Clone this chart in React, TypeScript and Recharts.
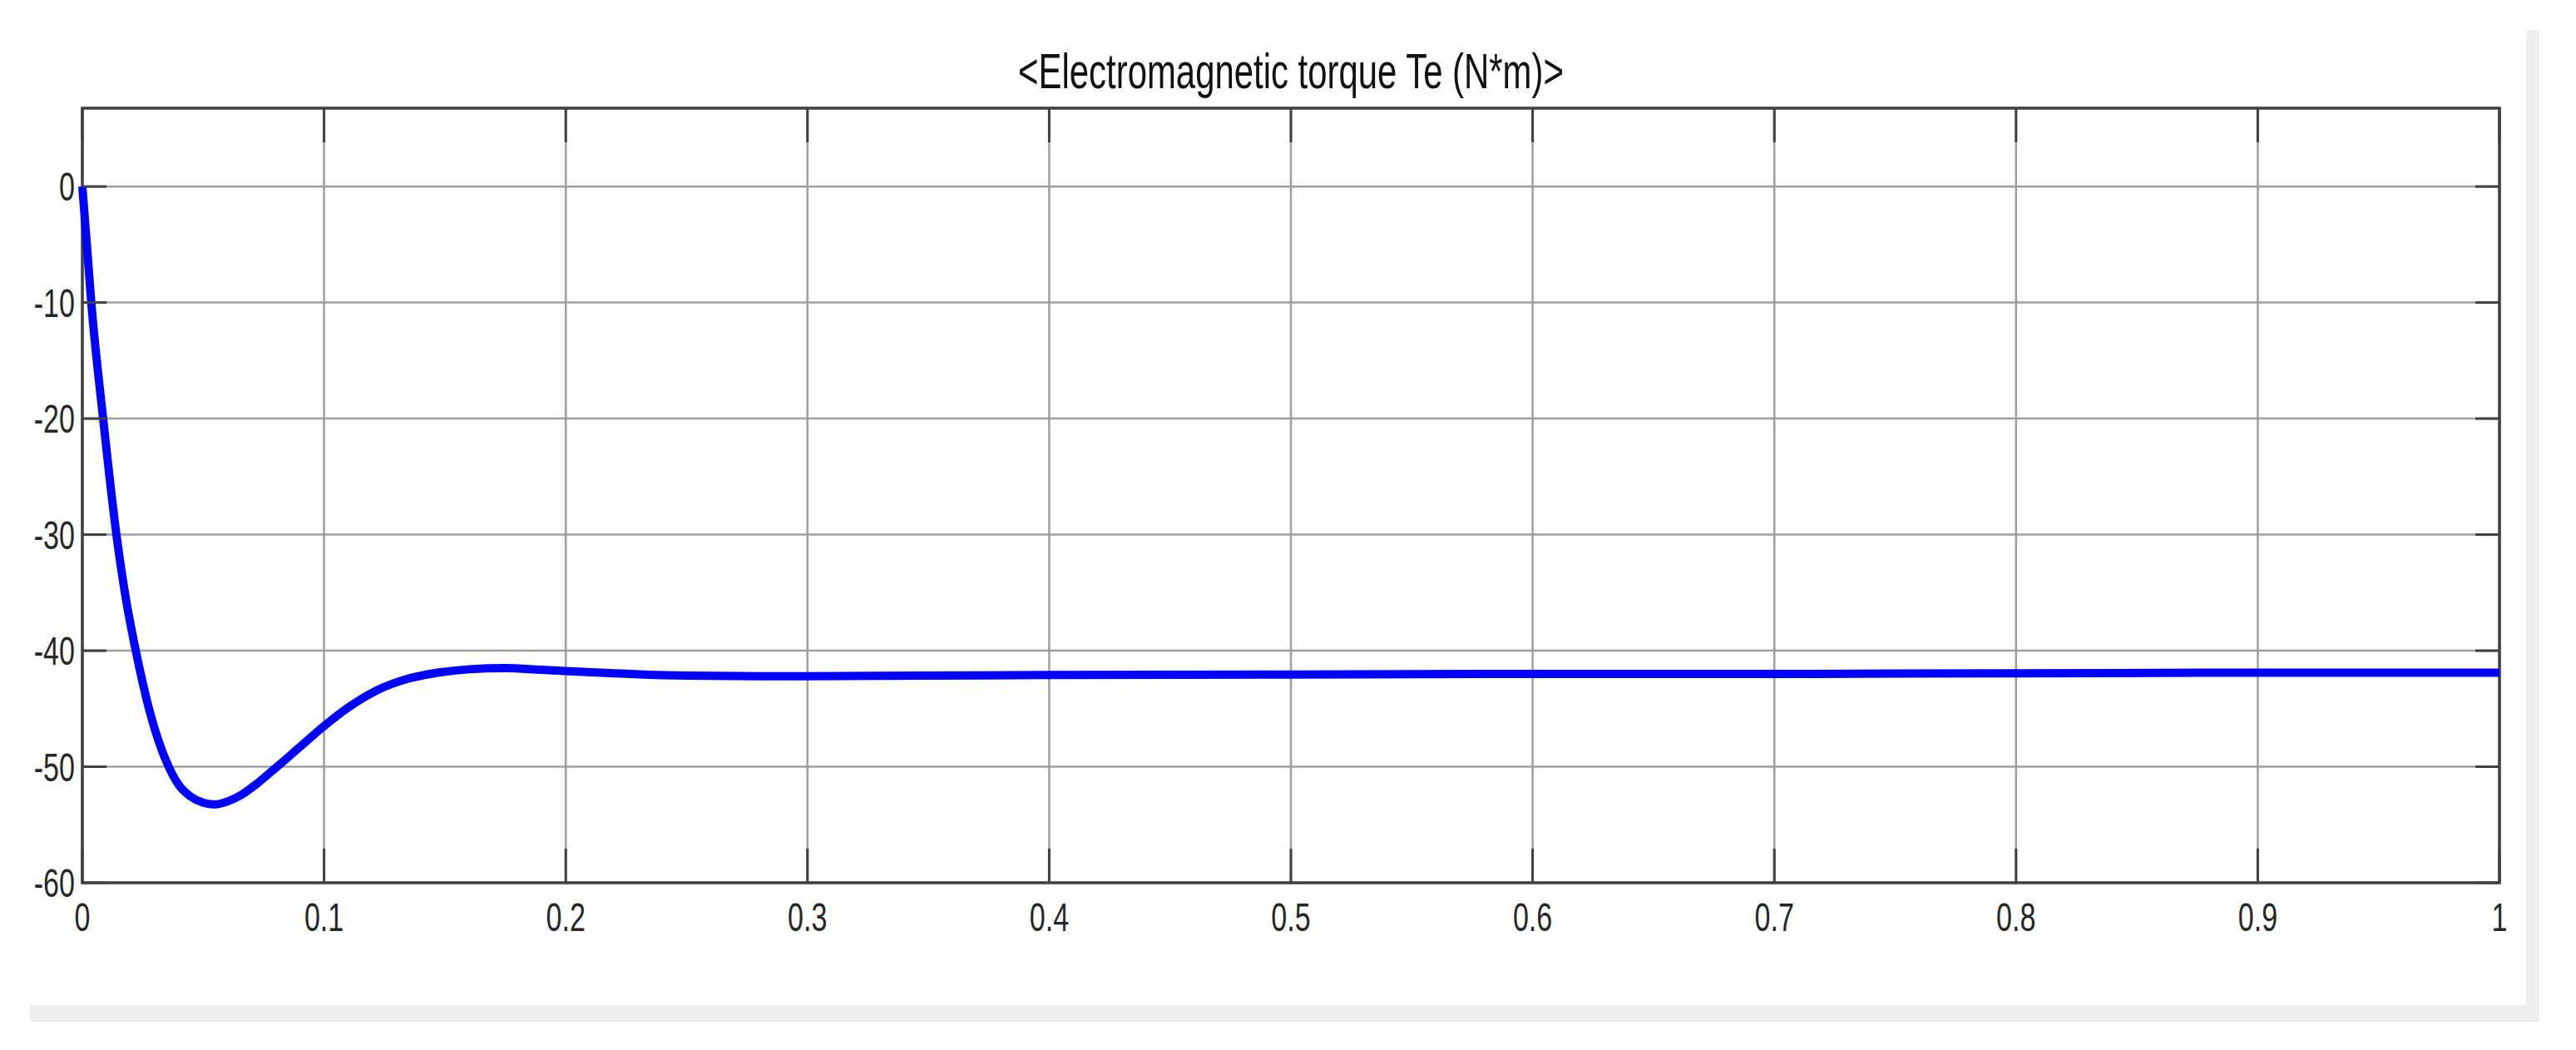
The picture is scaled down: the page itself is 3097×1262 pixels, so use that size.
import React from "react";
import { CartesianGrid, Line, LineChart, ReferenceArea, XAxis, YAxis } from "recharts";

// simulation time (s) and electromagnetic torque (N*m)
const time = [
  0, 0.002, 0.0037, 0.0086, 0.0141, 0.018, 0.0221, 0.0277, 0.0357, 0.04, 0.045, 0.05,
  0.055, 0.06, 0.066, 0.072, 0.08, 0.09, 0.1, 0.11, 0.122, 0.135, 0.147, 0.16, 0.175,
  0.19, 0.2, 0.22, 0.25, 0.28, 0.3, 0.35, 0.4, 0.5, 0.6, 0.7, 0.8, 0.9, 1.0,
];
const torque = [
  0, -5.4, -10, -20, -30, -35.5, -40, -45.1, -50, -51.6, -52.6, -53.1,
  -53.25, -53.0, -52.4, -51.5, -50.1, -48.3, -46.5, -44.9, -43.4, -42.4, -41.9, -41.6, -41.5,
  -41.65, -41.75, -41.95, -42.15, -42.2, -42.2, -42.15, -42.1, -42.05, -42.0, -42.0, -41.95, -41.9, -41.9,
];
const xTicks = [0, 0.1, 0.2, 0.3, 0.4, 0.5, 0.6, 0.7, 0.8, 0.9, 1];
const yTicks = [-60, -50, -40, -30, -20, -10, 0];
const title = "<Electromagnetic torque Te (N*m)>";

const data = time.map((t, i) => ({ t, te: torque[i] }));

// plot box in page pixels
const W = 3097;
const H = 1262;
const PLOT_LEFT = 99;
const PLOT_RIGHT = 3005;
const PLOT_TOP = 130;
const PLOT_BOTTOM = 1061;

const FONT = "'Liberation Sans', Arial, sans-serif";
const SQUEEZE = 0.71; // the picture's text is narrow
const TICK_FS = 48;
const TICK_COLOR = "#262626";
const BOX_COLOR = "#404040";

const YTick = (props: any) => {
  const { x, y, payload } = props;
  const axisX = x + 9;
  return (
    <g>
      <line x1={axisX} x2={axisX + 29} y1={y} y2={y} stroke={BOX_COLOR} strokeWidth={3} />
      <line x1={PLOT_RIGHT - 29} x2={PLOT_RIGHT} y1={y} y2={y} stroke={BOX_COLOR} strokeWidth={3} />
      <text
        transform={`translate(${x} ${y + 17}) scale(${SQUEEZE} 1)`}
        textAnchor="end"
        fontFamily={FONT}
        fontSize={TICK_FS}
        fill={TICK_COLOR}
      >
        {String(payload.value)}
      </text>
    </g>
  );
};

const XTick = (props: any) => {
  const { x, y, payload } = props;
  return (
    <g>
      <line x1={x} x2={x} y1={PLOT_BOTTOM - 41} y2={PLOT_BOTTOM} stroke={BOX_COLOR} strokeWidth={3} />
      <line x1={x} x2={x} y1={PLOT_TOP} y2={PLOT_TOP + 41} stroke={BOX_COLOR} strokeWidth={3} />
      <text
        transform={`translate(${x} ${y + 58}) scale(${SQUEEZE} 1)`}
        textAnchor="middle"
        fontFamily={FONT}
        fontSize={TICK_FS}
        fill={TICK_COLOR}
      >
        {String(payload.value)}
      </text>
    </g>
  );
};

const App: React.FC = () => {
  return (
    <div style={{ position: "absolute", left: 0, top: 0, width: W, height: H, background: "#fff" }}>
      {/* light grey frame on the right and bottom */}
      <div style={{ position: "absolute", left: 3037, top: 36, width: 16, height: 1192, background: "#efefef" }} />
      <div style={{ position: "absolute", left: 36, top: 1208, width: 3017, height: 20, background: "#efefef" }} />

      <div
        style={{
          position: "absolute",
          left: (PLOT_LEFT + PLOT_RIGHT) / 2,
          top: 57,
          transform: `translateX(-50%) scaleX(${SQUEEZE})`,
          whiteSpace: "nowrap",
          fontFamily: FONT,
          fontSize: 59,
          lineHeight: "59px",
          color: "#111",
        }}
      >
        {title}
      </div>

      <LineChart
        width={W}
        height={H}
        data={data}
        margin={{ top: PLOT_TOP, right: W - PLOT_RIGHT, left: PLOT_LEFT - 60, bottom: H - PLOT_BOTTOM - 60 }}
      >
        <CartesianGrid stroke="#9e9e9e" strokeWidth={2.5} />
        <XAxis
          dataKey="t"
          type="number"
          domain={[0, 1]}
          ticks={xTicks}
          height={60}
          axisLine={false}
          tickLine={false}
          tickSize={0}
          tickMargin={0}
          interval={0}
          tick={<XTick />}
        />
        <YAxis
          type="number"
          domain={[-60, 6.75]}
          ticks={yTicks}
          width={60}
          axisLine={false}
          tickLine={false}
          tickSize={0}
          tickMargin={9}
          interval={0}
          tick={<YTick />}
        />
        <Line
          type="monotone"
          dataKey="te"
          stroke="#0000ff"
          strokeWidth={10}
          dot={false}
          isAnimationActive={false}
        />
        <ReferenceArea
          x1={0}
          x2={1}
          y1={-60}
          y2={6.75}
          fill="none"
          stroke={BOX_COLOR}
          strokeWidth={3.5}
          ifOverflow="visible"
        />
      </LineChart>
    </div>
  );
};

export default App;
